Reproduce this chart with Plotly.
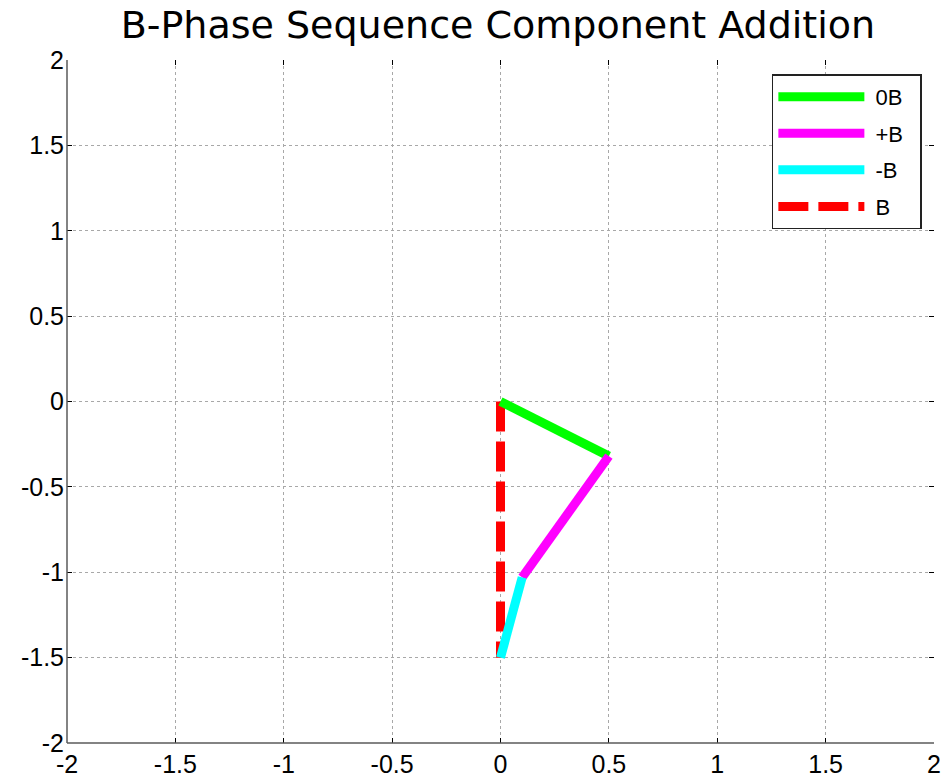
import plotly.graph_objects as go

# Phasor components (tail -> head) for B-phase
labels = ["0B", "+B", "-B", "B"]
start_x = [0.0, 0.50, 0.10, 0.0]
start_y = [0.0, -0.32, -1.03, 0.0]
end_x = [0.50, 0.10, 0.0, 0.0]
end_y = [-0.32, -1.03, -1.50, -1.50]
colors = ["#00ff00", "#ff00ff", "#00ffff", "#ff0000"]
dashes = ["solid", "solid", "solid", "30px,10px"]

tick_vals = [-2, -1.5, -1, -0.5, 0, 0.5, 1, 1.5, 2]
tick_text = ["-2", "-1.5", "-1", "-0.5", "0", "0.5", "1", "1.5", "2"]

NBSP = "\u00a0"

fig = go.Figure()
# draw resultant first so components sit on top; legend order via legendrank
draw_order = [3, 0, 1, 2]
for i in draw_order:
    fig.add_trace(go.Scatter(
        x=[start_x[i], end_x[i]], y=[start_y[i], end_y[i]],
        mode="lines", name=NBSP + labels[i] + NBSP * 2, legendgroup=labels[i],
        line=dict(color=colors[i], width=9, dash=dashes[i]),
        legendrank=i + 1,
    ))

axis_common = dict(
    range=[-2, 2], tickvals=tick_vals, ticktext=tick_text,
    showgrid=True, gridcolor="#a8a8a8", griddash="dot", gridwidth=1,
    zeroline=False, showline=False, mirror="ticks", automargin=False,
    ticks="inside", ticklen=5, tickcolor="#000000", tickwidth=1,
    tickfont=dict(family="Liberation Sans, Arial, sans-serif", size=25, color="#000000"),
)

fig.update_layout(
    width=943, height=782,
    margin=dict(l=67, r=9, t=60, b=39),
    paper_bgcolor="white", plot_bgcolor="white",
    title=dict(text="B-Phase Sequence Component Addition",
               font=dict(family="DejaVu Sans, Verdana, sans-serif", size=38, color="#000000"),
               x=0.528, xanchor="center", y=0.968, yanchor="middle", yref="container"),
    xaxis=dict(axis_common, ticklabelstandoff=4),
    yaxis=dict(axis_common, ticklabelstandoff=2),
    legend=dict(x=0.813, y=0.979, xanchor="left", yanchor="top",
                bgcolor="white", bordercolor="#222222", borderwidth=1.5,
                font=dict(family="Liberation Sans, Arial, sans-serif", size=22, color="#000000"),
                itemwidth=86, traceorder="grouped", tracegroupgap=5),
    shapes=[
        dict(type="line", xref="paper", yref="paper", x0=0, x1=0, y0=0, y1=1,
             line=dict(color="#5a5a5a", width=1.5)),
        dict(type="line", xref="paper", yref="paper", x0=0, x1=1, y0=0, y1=0,
             line=dict(color="#5a5a5a", width=1.5)),
    ],
)

fig.write_html("out.html", config={"displayModeBar": False},
               post_script="document.body.style.margin='0';document.body.style.overflow='hidden';")
